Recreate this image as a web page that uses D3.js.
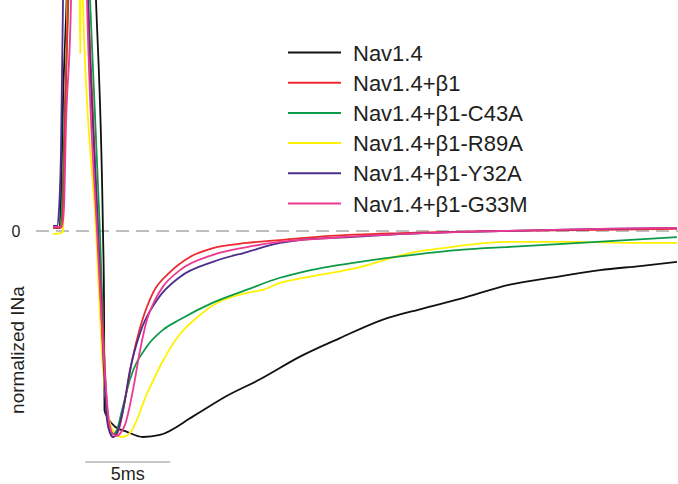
<!DOCTYPE html>
<html>
<head>
<meta charset="utf-8">
<script src="https://cdn.jsdelivr.net/npm/d3@7"></script>
<style>
  body { margin: 0; background: #fff; }
  text { font-family: Arial, "Liberation Sans", sans-serif; fill: #231f20; }
</style>
</head>
<body>
<div id="chart"></div>
<script>
// chart size
let svgWidth = 678;
let svgHeight = 484;

// traces: [time (ms), normalized INa]
let nav14 = [[0,0.015],[0.35,0.015],[0.47,0.15],[0.59,0.63],[0.8,1.12],[0.86,1.3],[2.45,1.3],[2.53,1.12],[2.94,0],[3.0,-0.33],[3.03,-0.87],[3.24,-0.91],[3.65,-0.95],[4.35,-0.975],[5.29,-1.0],[6.29,-0.99],[8.24,-0.9],[10.24,-0.8],[12.18,-0.72],[14.53,-0.61],[16.88,-0.52],[19.41,-0.43],[21.59,-0.38],[23.94,-0.33],[26.88,-0.26],[29.82,-0.22],[32.18,-0.19],[34.53,-0.17],[36.71,-0.15]];
let beta1 = [[0,0.015],[0.47,0.015],[0.59,0.1],[0.7,0.5],[0.88,1.12],[0.95,1.3],[1.95,1.3],[2.06,1.12],[2.65,0],[3.0,-0.58],[3.24,-0.92],[3.53,-1.0],[3.82,-0.975],[4.24,-0.82],[4.65,-0.63],[5.12,-0.47],[5.88,-0.30],[6.88,-0.2],[8.06,-0.126],[9.41,-0.083],[11.41,-0.058],[13.35,-0.044],[16.29,-0.024],[20.41,-0.01],[26.29,0],[32.18,0.005],[36.71,0.01]];
let c43a = [[0,0.015],[0.41,0.015],[0.53,0.12],[0.68,0.55],[0.9,1.12],[0.95,1.3],[2.1,1.3],[2.18,1.12],[2.76,0],[3.0,-0.58],[3.18,-0.89],[3.35,-0.965],[3.53,-0.985],[3.76,-0.965],[4.06,-0.87],[4.53,-0.72],[5.53,-0.56],[6.47,-0.48],[7.47,-0.43],[9.41,-0.348],[11.41,-0.285],[13.35,-0.227],[14.71,-0.198],[18.06,-0.15],[21.18,-0.116],[23.94,-0.092],[26.88,-0.077],[31.0,-0.058],[36.71,-0.03]];
let r89a = [[0,-0.015],[0.47,-0.01],[0.59,0],[0.65,0.3],[0.8,0.9],[0.9,1.3],[1.55,1.3],[1.6,0.86],[1.65,1.3],[1.72,1.3],[1.76,1.12],[2.53,0],[2.94,-0.67],[3.24,-0.89],[3.59,-0.975],[4.06,-1.0],[4.53,-0.98],[5.53,-0.79],[6.47,-0.63],[7.47,-0.5],[8.47,-0.42],[9.41,-0.36],[11.41,-0.3],[12.35,-0.286],[13.35,-0.252],[14.71,-0.228],[18.06,-0.175],[21.0,-0.107],[22.94,-0.083],[26.88,-0.053],[30.82,-0.053],[34.12,-0.058],[36.71,-0.058]];
let y32a = [[0,0.025],[0.24,0.025],[0.35,0.1],[0.47,0.39],[0.59,1.12],[0.65,1.3],[2.0,1.3],[2.06,1.12],[2.65,0],[2.94,-0.58],[3.18,-0.92],[3.35,-0.98],[3.53,-1.0],[3.76,-0.98],[4.12,-0.87],[4.53,-0.675],[5.12,-0.495],[6.12,-0.335],[7.47,-0.223],[9.41,-0.15],[11.41,-0.102],[13.35,-0.058],[14.53,-0.044],[17.47,-0.03],[20.41,-0.015],[26.29,0],[32.18,0.01],[36.71,0.015]];
let g33m = [[0,0.02],[0.53,0.02],[0.65,0.12],[0.76,0.5],[1.06,1.12],[1.1,1.3],[1.95,1.3],[2.0,1.12],[2.59,0],[3.0,-0.63],[3.29,-0.92],[3.53,-0.985],[3.76,-0.995],[4.06,-0.97],[4.24,-0.94],[4.71,-0.77],[5.12,-0.58],[5.53,-0.43],[6.0,-0.335],[6.47,-0.27],[7.47,-0.19],[9.41,-0.116],[11.41,-0.078],[13.35,-0.053],[16.29,-0.034],[20.41,-0.015],[26.29,0],[32.18,0.01],[36.71,0.015]];

let seriesNames = ["Nav1.4", "Nav1.4+β1", "Nav1.4+β1-C43A", "Nav1.4+β1-R89A", "Nav1.4+β1-Y32A", "Nav1.4+β1-G33M"];
let seriesData = [nav14, beta1, c43a, r89a, y32a, g33m];
let seriesColors = ["#111111", "#ec2a2f", "#0d9b4a", "#fff200", "#4a2d8c", "#ea3a91"];
let drawOrder = [0, 3, 2, 1, 4, 5];

// scale bar length (ms)
let scaleBarStart = 1.9;
let scaleBarLength = 5;

let svg = d3.select("#chart")
    .append("svg")
    .attr("width", svgWidth)
    .attr("height", svgHeight);

// time -> x, current -> y
let xScale = d3.scaleLinear().domain([0, 36.71]).range([53, 677]);
let yScale = d3.scaleLinear().domain([-1, 0]).range([437, 231]);

// zero line
svg.append("line")
    .attr("x1", 36)
    .attr("x2", svgWidth)
    .attr("y1", yScale(0))
    .attr("y2", yScale(0))
    .attr("stroke", "#a9a9a9")
    .attr("stroke-width", 1.4)
    .attr("stroke-dasharray", "13,7");

svg.append("text")
    .attr("x", 16)
    .attr("y", yScale(0))
    .attr("dy", "0.36em")
    .attr("text-anchor", "middle")
    .style("font-size", "16px")
    .text("0");

// traces
let line = d3.line()
    .x(d => xScale(d[0]))
    .y(d => yScale(d[1]))
    .curve(d3.curveMonotoneX);

svg.append("defs").append("clipPath")
    .attr("id", "clip")
    .append("rect")
    .attr("x", 0).attr("y", 0)
    .attr("width", svgWidth).attr("height", svgHeight);

let traces = svg.append("g").attr("clip-path", "url(#clip)");

drawOrder.forEach(i => {
    traces.append("path")
        .datum(seriesData[i])
        .attr("fill", "none")
        .attr("stroke", seriesColors[i])
        .attr("stroke-width", 1.8)
        .attr("stroke-linejoin", "round")
        .attr("d", line);
});

// legend
let legend = svg.append("g");
seriesNames.forEach((name, i) => {
    let ly = 52.5 + i * 30.2;
    legend.append("line")
        .attr("x1", 288).attr("x2", 341)
        .attr("y1", ly).attr("y2", ly)
        .attr("stroke", seriesColors[i])
        .attr("stroke-width", 2);
    legend.append("text")
        .attr("x", 353)
        .attr("y", ly + 8)
        .style("font-size", "22px")
        .text(name);
});

// y label
svg.append("text")
    .attr("transform", "translate(24, 350) rotate(-90)")
    .attr("text-anchor", "middle")
    .style("font-size", "19px")
    .text("normalized INa");

// scale bar
svg.append("line")
    .attr("x1", xScale(scaleBarStart))
    .attr("x2", xScale(scaleBarStart + scaleBarLength))
    .attr("y1", 462).attr("y2", 462)
    .attr("stroke", "#b5b5b5")
    .attr("stroke-width", 1.5);

svg.append("text")
    .attr("x", xScale(scaleBarStart + scaleBarLength / 2))
    .attr("y", 480)
    .attr("text-anchor", "middle")
    .style("font-size", "18px")
    .text("5ms");
</script>
</body>
</html>
